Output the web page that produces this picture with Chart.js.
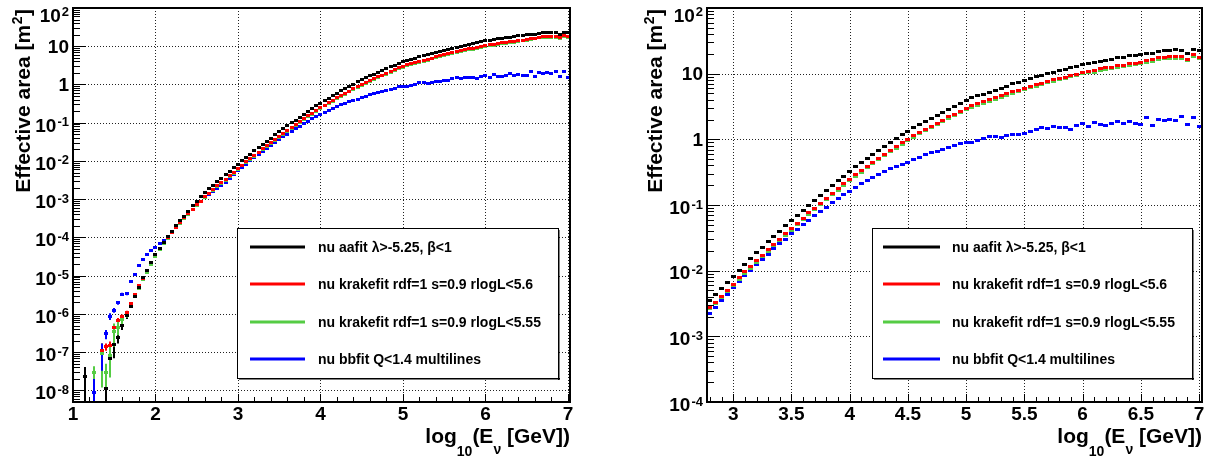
<!DOCTYPE html>
<html><head><meta charset="utf-8">
<script src="https://cdn.jsdelivr.net/npm/chart.js@4.4.1/dist/chart.umd.min.js"></script>
<style>
html,body{margin:0;padding:0;background:#fff;width:1214px;height:462px;overflow:hidden}
.panel{position:absolute;top:0;width:607px;height:462px}
#p1{left:0}#p2{left:607px}
canvas{display:block}
</style></head><body>
<div class="panel" id="p1"><canvas id="c1" width="607" height="462"></canvas></div>
<div class="panel" id="p2"><canvas id="c2" width="607" height="462"></canvas></div>
<script>
// ---- categories: log10(E_nu [GeV]) bin centres ----
const energyBins = [1.15,1.2,1.25,1.3,1.35,1.4,1.45,1.5,1.55,1.6,1.65,1.7,1.75,1.8,1.85,1.9,1.95,2.0,2.05,2.1,2.15,2.2,2.25,2.3,2.35,2.4,2.45,2.5,2.55,2.6,2.65,2.7,2.75,2.8,2.85,2.9,2.95,3.0,3.05,3.1,3.15,3.2,3.25,3.3,3.35,3.4,3.45,3.5,3.55,3.6,3.65,3.7,3.75,3.8,3.85,3.9,3.95,4.0,4.05,4.1,4.15,4.2,4.25,4.3,4.35,4.4,4.45,4.5,4.55,4.6,4.65,4.7,4.75,4.8,4.85,4.9,4.95,5.0,5.05,5.1,5.15,5.2,5.25,5.3,5.35,5.4,5.45,5.5,5.55,5.6,5.65,5.7,5.75,5.8,5.85,5.9,5.95,6.0,6.05,6.1,6.15,6.2,6.25,6.3,6.35,6.4,6.45,6.5,6.55,6.6,6.65,6.7,6.75,6.8,6.85,6.9,6.95,7.0];

const seriesLabels = ["nu aafit \u03bb>-5.25, \u03b2<1","nu krakefit rdf=1 s=0.9 rlogL<5.6","nu krakefit rdf=1 s=0.9 rlogL<5.55","nu bbfit Q<1.4 multilines"];

// ---- effective area [m^2] per bin ----
const aafitArea = [2.3e-8,null,null,null,null,1.1e-8,7.0e-8,1.6e-7,2.5e-7,5.0e-7,8.9e-7,1.58e-6,2.8e-6,5.0e-6,8.9e-6,1.41e-5,2.24e-5,3.55e-5,5.25e-5,7.6e-5,1.05e-4,1.45e-4,2.0e-4,2.7e-4,3.6e-4,4.9e-4,6.8e-4,8.9e-4,1.15e-3,1.48e-3,1.86e-3,2.34e-3,2.88e-3,3.55e-3,4.37e-3,5.4e-3,6.6e-3,8.1e-3,1.02e-2,1.26e-2,1.51e-2,1.86e-2,2.24e-2,2.75e-2,3.3e-2,3.98e-2,4.8e-2,5.75e-2,6.9e-2,8.3e-2,0.100,0.117,0.141,0.166,0.200,0.234,0.275,0.324,0.38,0.44,0.51,0.59,0.68,0.78,0.89,1.02,1.17,1.33,1.50,1.68,1.86,2.09,2.32,2.57,2.88,3.20,3.55,3.94,4.27,4.57,4.90,5.25,5.62,6.03,6.46,7.0,7.41,7.94,8.41,8.91,9.44,10.0,10.6,11.2,11.7,12.4,13.0,13.8,14.3,14.8,15.5,16.0,16.6,17.4,17.8,18.6,19.1,19.9,20.6,20.2,22.0,22.4,22.7,23.1,22.8,20.5,23.1,22.4];
const krake56Area = [null,null,null,null,1.1e-7,1.4e-7,1.5e-7,4.5e-7,6.8e-7,8.5e-7,1.1e-6,1.9e-6,3.3e-6,5.4e-6,8.7e-6,1.38e-5,2.2e-5,3.5e-5,5.2e-5,7.5e-5,1.02e-4,1.38e-4,1.86e-4,2.45e-4,3.24e-4,4.27e-4,5.5e-4,7.1e-4,8.9e-4,1.15e-3,1.45e-3,1.78e-3,2.24e-3,2.75e-3,3.32e-3,4.1e-3,5.0e-3,6.2e-3,7.8e-3,9.6e-3,1.15e-2,1.41e-2,1.70e-2,2.09e-2,2.51e-2,3.02e-2,3.65e-2,4.37e-2,5.24e-2,6.3e-2,0.076,0.089,0.107,0.126,0.152,0.178,0.209,0.246,0.289,0.334,0.388,0.448,0.517,0.593,0.676,0.775,0.889,1.01,1.14,1.28,1.41,1.59,1.76,1.95,2.19,2.43,2.70,2.99,3.25,3.47,3.72,3.99,4.27,4.58,4.91,5.32,5.63,6.03,6.39,6.77,7.17,7.6,8.06,8.51,8.89,9.42,9.88,10.5,10.9,11.2,11.8,12.2,12.6,13.2,13.5,14.1,14.5,15.0,15.8,16.3,17.4,17.9,18.1,18.2,18.0,16.7,19.4,17.9];
const krake555Area = [null,null,3.0e-8,null,9.0e-8,3.0e-8,8.0e-8,3.5e-7,4.5e-7,7.0e-7,1.0e-6,1.6e-6,2.8e-6,4.6e-6,7.8e-6,1.25e-5,2.0e-5,3.2e-5,4.8e-5,7.0e-5,9.6e-5,1.32e-4,1.78e-4,2.35e-4,3.1e-4,4.1e-4,5.3e-4,6.8e-4,8.5e-4,1.10e-3,1.39e-3,1.70e-3,2.14e-3,2.62e-3,3.15e-3,3.9e-3,4.75e-3,5.9e-3,7.4e-3,9.1e-3,1.09e-2,1.34e-2,1.62e-2,1.99e-2,2.38e-2,2.87e-2,3.47e-2,4.15e-2,4.98e-2,5.99e-2,7.2e-2,8.5e-2,0.102,0.120,0.144,0.169,0.199,0.234,0.275,0.317,0.369,0.426,0.491,0.563,0.642,0.736,0.845,0.96,1.08,1.22,1.34,1.51,1.67,1.85,2.08,2.31,2.57,2.84,3.09,3.30,3.53,3.79,4.06,4.35,4.66,5.05,5.35,5.73,6.07,6.43,6.81,7.22,7.66,8.08,8.45,8.95,9.39,9.98,10.4,10.6,11.2,11.6,12.0,12.5,12.8,13.4,13.8,14.3,15.0,15.5,16.5,17.0,17.2,17.3,17.1,15.9,18.4,17.0];
const bbfitArea = [null,null,9.0e-9,null,1.0e-7,3.0e-7,8.7e-7,1.26e-6,1.95e-6,3.3e-6,3.4e-6,6.9e-6,1.1e-5,1.9e-5,2.6e-5,3.5e-5,4.5e-5,5.6e-5,6.8e-5,8.3e-5,1.0e-4,1.35e-4,1.78e-4,2.34e-4,3.1e-4,4.07e-4,5.4e-4,6.8e-4,8.6e-4,1.08e-3,1.32e-3,1.58e-3,1.88e-3,2.25e-3,2.75e-3,3.47e-3,4.37e-3,5.5e-3,6.8e-3,8.3e-3,1.02e-2,1.23e-2,1.48e-2,1.78e-2,2.14e-2,2.57e-2,3.02e-2,3.63e-2,4.27e-2,5.0e-2,5.9e-2,6.9e-2,8.1e-2,9.3e-2,0.110,0.126,0.145,0.162,0.182,0.209,0.234,0.263,0.295,0.324,0.355,0.389,0.417,0.447,0.49,0.537,0.589,0.631,0.661,0.708,0.741,0.794,0.871,0.891,0.891,0.955,1.02,1.10,1.10,1.07,1.15,1.17,1.20,1.24,1.30,1.43,1.53,1.45,1.57,1.53,1.50,1.43,1.60,1.77,1.55,1.81,1.66,1.64,1.74,1.89,1.77,1.86,1.74,1.70,2.14,1.62,2.0,1.95,2.04,1.91,2.19,1.66,2.14,1.55];

// ---- error bars of the low-statistics bins (first bins of energyBins) ----
const aafitErrLow    = [5e-9,null,null,null,null,1e-9,3e-8,7e-8,1.7e-7,3.8e-7,7.4e-7];
const aafitErrHigh   = [4.1e-8,null,null,null,null,3.3e-8,1.1e-7,2.5e-7,3.3e-7,6.2e-7,1.04e-6];
const krake56ErrLow  = [null,null,null,null,5e-8,1.1e-7,1.1e-7,3.5e-7,5.8e-7,7.3e-7,9.8e-7];
const krake56ErrHigh = [null,null,null,null,1.7e-7,1.7e-7,1.9e-7,5.5e-7,7.8e-7,9.7e-7,1.22e-6];
const krake555ErrLow = [null,null,1.7e-8,null,1.2e-8,1.2e-8,2.2e-8,1.4e-7,2.8e-7,5.0e-7,8.0e-7];
const krake555ErrHigh= [null,null,4.3e-8,null,1.7e-7,5.0e-8,1.45e-7,5.6e-7,6.2e-7,9.0e-7,1.2e-6];
const bbfitErrLow    = [null,null,1e-9,null,3.3e-8,2.2e-7,7.0e-7,1.08e-6,1.75e-6,3.0e-6,3.1e-6];
const bbfitErrHigh   = [null,null,2e-8,null,1.7e-7,3.8e-7,1.04e-6,1.44e-6,2.15e-6,3.6e-6,3.7e-6];

// ---- tick values ----
const xTicksLeft  = [1,2,3,4,5,6,7];
const xTicksRight = [3,3.5,4,4.5,5,5.5,6,6.5,7];
const yTicksLeft  = [1e-8,1e-7,1e-6,1e-5,1e-4,1e-3,1e-2,1e-1,1,10,100];
const yTicksRight = [1e-4,1e-3,1e-2,1e-1,1,10,100];

const seriesArrays = [aafitArea,krake56Area,krake555Area,bbfitArea];
const errLowArrays = [aafitErrLow,krake56ErrLow,krake555ErrLow,bbfitErrLow];
const errHighArrays= [aafitErrHigh,krake56ErrHigh,krake555ErrHigh,bbfitErrHigh];

// ---- styles ----
const seriesColors = ['#000000','#ff0000','#55cc44','#0000ff'];
const FAM = '"Liberation Sans", Arial, Helvetica, sans-serif';

function makeMarker(color,w,h){
  const c=document.createElement('canvas');c.width=w;c.height=h;
  const g=c.getContext('2d');g.fillStyle=color;g.fillRect(0,0,w,h);return c;
}

function makePlugin(p){
  return {
    id:'rootStyle',
    beforeDatasetsDraw(chart){
      const {ctx,chartArea:a,scales:{x:xs,y:ys}}=chart;
      ctx.save();
      ctx.strokeStyle='#222';ctx.lineWidth=1;ctx.setLineDash([1,2]);
      ctx.beginPath();
      p.yTicks.forEach(v=>{const py=Math.round(ys.getPixelForValue(v))+0.5;ctx.moveTo(a.left,py);ctx.lineTo(a.right,py);});
      p.xTicks.forEach(v=>{const px=Math.round(xs.getPixelForValue(v))+0.5;ctx.moveTo(px,a.top);ctx.lineTo(px,a.bottom);});
      ctx.stroke();ctx.setLineDash([]);
      ctx.beginPath();ctx.rect(a.left,a.top,a.right-a.left,a.bottom-a.top);ctx.clip();
      chart.data.datasets.forEach(ds=>{
        if(!ds.errLow) return;
        ctx.strokeStyle=ds.borderColor;ctx.lineWidth=2;
        ds.errLow.forEach((lo,i)=>{
          const hi=ds.errHigh[i];
          if(lo==null||hi==null) return;
          const px=Math.round(xs.getPixelForValue(energyBins[i]));
          ctx.beginPath();ctx.moveTo(px,ys.getPixelForValue(lo));ctx.lineTo(px,ys.getPixelForValue(hi));ctx.stroke();
        });
      });
      ctx.restore();
    },
    afterDraw(chart){
      const {ctx,chartArea:a,scales:{x:xs,y:ys}}=chart;
      ctx.save();
      ctx.strokeStyle='#000';ctx.lineWidth=1;ctx.beginPath();
      p.yTicks.forEach(v=>{const py=Math.round(ys.getPixelForValue(v))+0.5;ctx.moveTo(a.left,py);ctx.lineTo(a.left+13,py);});
      const e0=Math.floor(Math.log10(p.yMin)),e1=Math.ceil(Math.log10(p.yMax));
      for(let e=e0;e<e1;e++)for(let m=2;m<=9;m++){
        const v=m*Math.pow(10,e);if(v<p.yMin||v>p.yMax)continue;
        const py=Math.round(ys.getPixelForValue(v))+0.5;ctx.moveTo(a.left,py);ctx.lineTo(a.left+7,py);
      }
      p.xTicks.forEach(v=>{const px=Math.round(xs.getPixelForValue(v))+0.5;ctx.moveTo(px,a.bottom);ctx.lineTo(px,a.bottom-8);});
      const n0=Math.ceil(p.xMin/p.xMinorStep-1e-6),n1=Math.floor(p.xMax/p.xMinorStep+1e-6);
      for(let n=n0;n<=n1;n++){
        const v=n*p.xMinorStep;
        if(p.xTicks.some(t=>Math.abs(t-v)<1e-6))continue;
        const px=Math.round(xs.getPixelForValue(v))+0.5;ctx.moveTo(px,a.bottom);ctx.lineTo(px,a.bottom-5);
      }
      ctx.stroke();
      ctx.lineWidth=2;ctx.strokeRect(a.left,a.top,a.right-a.left,a.bottom-a.top);
      ctx.fillStyle='#000';ctx.textAlign='left';ctx.textBaseline='alphabetic';
      const baseF='bold 19px '+FAM,supF='bold 13px '+FAM,capH=13.6;
      p.yTicks.forEach(v=>{
        const e=Math.round(Math.log10(v));
        const py=ys.getPixelForValue(v);
        const base=e===0?'1':'10';
        const sup=(e===0||e===1)?'':String(e);
        ctx.font=supF;const sw=sup?ctx.measureText(sup).width+1:0;
        ctx.font=baseF;const bw=ctx.measureText(base).width;
        const right=a.left-4;
        let baseline=py+capH/2+(sup?2:0);
        let top=baseline-capH;
        if(top<8){baseline+=8-top;top=8;}
        ctx.fillText(base,right-sw-bw,baseline);
        if(sup){ctx.font=supF;ctx.fillText(sup,right-sw+1,top-1+9.3);}
      });
      ctx.save();
      ctx.translate(p.yTitleX,9);ctx.rotate(-Math.PI/2);
      const tF='bold 21px '+FAM,tS='bold 14px '+FAM;
      ctx.font=tF;const w1=ctx.measureText('Effective area [m').width,w3=ctx.measureText(']').width;
      ctx.font=tS;const w2=ctx.measureText('2').width;
      let sx=-(w1+w2+w3+1);
      ctx.font=tF;ctx.fillText('Effective area [m',sx,0);
      ctx.font=tS;ctx.fillText('2',sx+w1+0.5,-8);
      ctx.font=tF;ctx.fillText(']',sx+w1+w2+1,0);
      ctx.restore();
      const parts=[['log',tF,0],['10',tS,13],['(E',tF,0],['\u03bd',tS,11],[' [GeV])',tF,0]];
      let tw=0;parts.forEach(q=>{ctx.font=q[1];q.push(ctx.measureText(q[0]).width);tw+=q[3];});
      let xx=a.right-tw;
      parts.forEach(q=>{ctx.font=q[1];ctx.fillText(q[0],xx,443+q[2]);xx+=q[3];});
      const L=p.legend;
      ctx.fillStyle='#fff';ctx.fillRect(L.x1,L.y1,L.x2-L.x1,L.y2-L.y1);
      ctx.strokeStyle='#000';ctx.lineWidth=1;ctx.strokeRect(L.x1+0.5,L.y1+0.5,L.x2-L.x1,L.y2-L.y1);
      ctx.fillStyle='#000';ctx.fillRect(L.x2,L.y1+2,1.5,L.y2-L.y1);ctx.fillRect(L.x1+2,L.y2,L.x2-L.x1,1.5);
      ctx.font='bold 14px '+FAM;
      chart.data.datasets.forEach((ds,k)=>{
        const ry=L.rows[k];
        ctx.strokeStyle=ds.borderColor;ctx.lineWidth=3;ctx.beginPath();ctx.moveTo(L.lx1,ry);ctx.lineTo(L.lx2,ry);ctx.stroke();
        ctx.fillStyle='#000';ctx.fillText(ds.label,L.tx,ry+5);
      });
      ctx.restore();
    }
  };
}

function buildChart(p){
  const datasets=seriesArrays.map((arr,k)=>({
    label:seriesLabels[k],
    data:energyBins.map((x,i)=>({x:x,y:arr[i]})).filter(pt=>pt.y!=null&&pt.x>=p.xMin),
    showLine:false,
    borderColor:seriesColors[k],
    backgroundColor:seriesColors[k],
    pointStyle:makeMarker(seriesColors[k],p.marker[0],p.marker[1]),
    pointRadius:2,
    errLow:p.errBars?errLowArrays[k]:null,
    errHigh:p.errBars?errHighArrays[k]:null
  }));
  return new Chart(document.getElementById(p.canvas),{
    type:'scatter',
    data:{datasets},
    options:{
      responsive:false,animation:false,events:[],
      layout:{padding:{top:8,right:p.padRight,left:0,bottom:0}},
      plugins:{legend:{display:false},tooltip:{enabled:false}},
      scales:{
        x:{type:'linear',min:p.xMin,max:p.xMax,grid:{display:false,drawTicks:false},border:{display:false},
          afterBuildTicks:s=>{s.ticks=p.xTicks.map(v=>({value:v}));},
          afterFit:s=>{s.height=60;},
          ticks:{autoSkip:false,maxRotation:0,minRotation:0,padding:1,color:'#000',
            font:{family:FAM,size:19,weight:'bold'},callback:v=>String(v)}},
        y:{type:'logarithmic',min:p.yMin,max:p.yMax,grid:{display:false,drawTicks:false},border:{display:false},
          afterBuildTicks:s=>{s.ticks=p.yTicks.map(v=>({value:v}));},
          afterFit:s=>{s.width=p.yAxisWidth;},
          ticks:{display:false}}
      }
    },
    plugins:[makePlugin(p)]
  });
}

buildChart({canvas:'c1',xMin:1,xMax:7.025,yMin:5e-9,yMax:100,xTicks:xTicksLeft,xMinorStep:0.2,
  yTicks:yTicksLeft,yAxisWidth:73,padRight:37,marker:[4,3],errBars:true,yTitleX:29.5,
  legend:{x1:237,y1:228,x2:558,y2:378,lx1:250,lx2:305,tx:318,rows:[247,284,322,359]}});
buildChart({canvas:'c2',xMin:2.775,xMax:7.025,yMin:1e-4,yMax:100,xTicks:xTicksRight,xMinorStep:0.1,
  yTicks:yTicksRight,yAxisWidth:100,padRight:12,marker:[5,3],errBars:false,yTitleX:55.3,
  legend:{x1:265,y1:228,x2:585,y2:378,lx1:276,lx2:333,tx:345,rows:[247,284,322,359]}});
</script>
</body></html>
